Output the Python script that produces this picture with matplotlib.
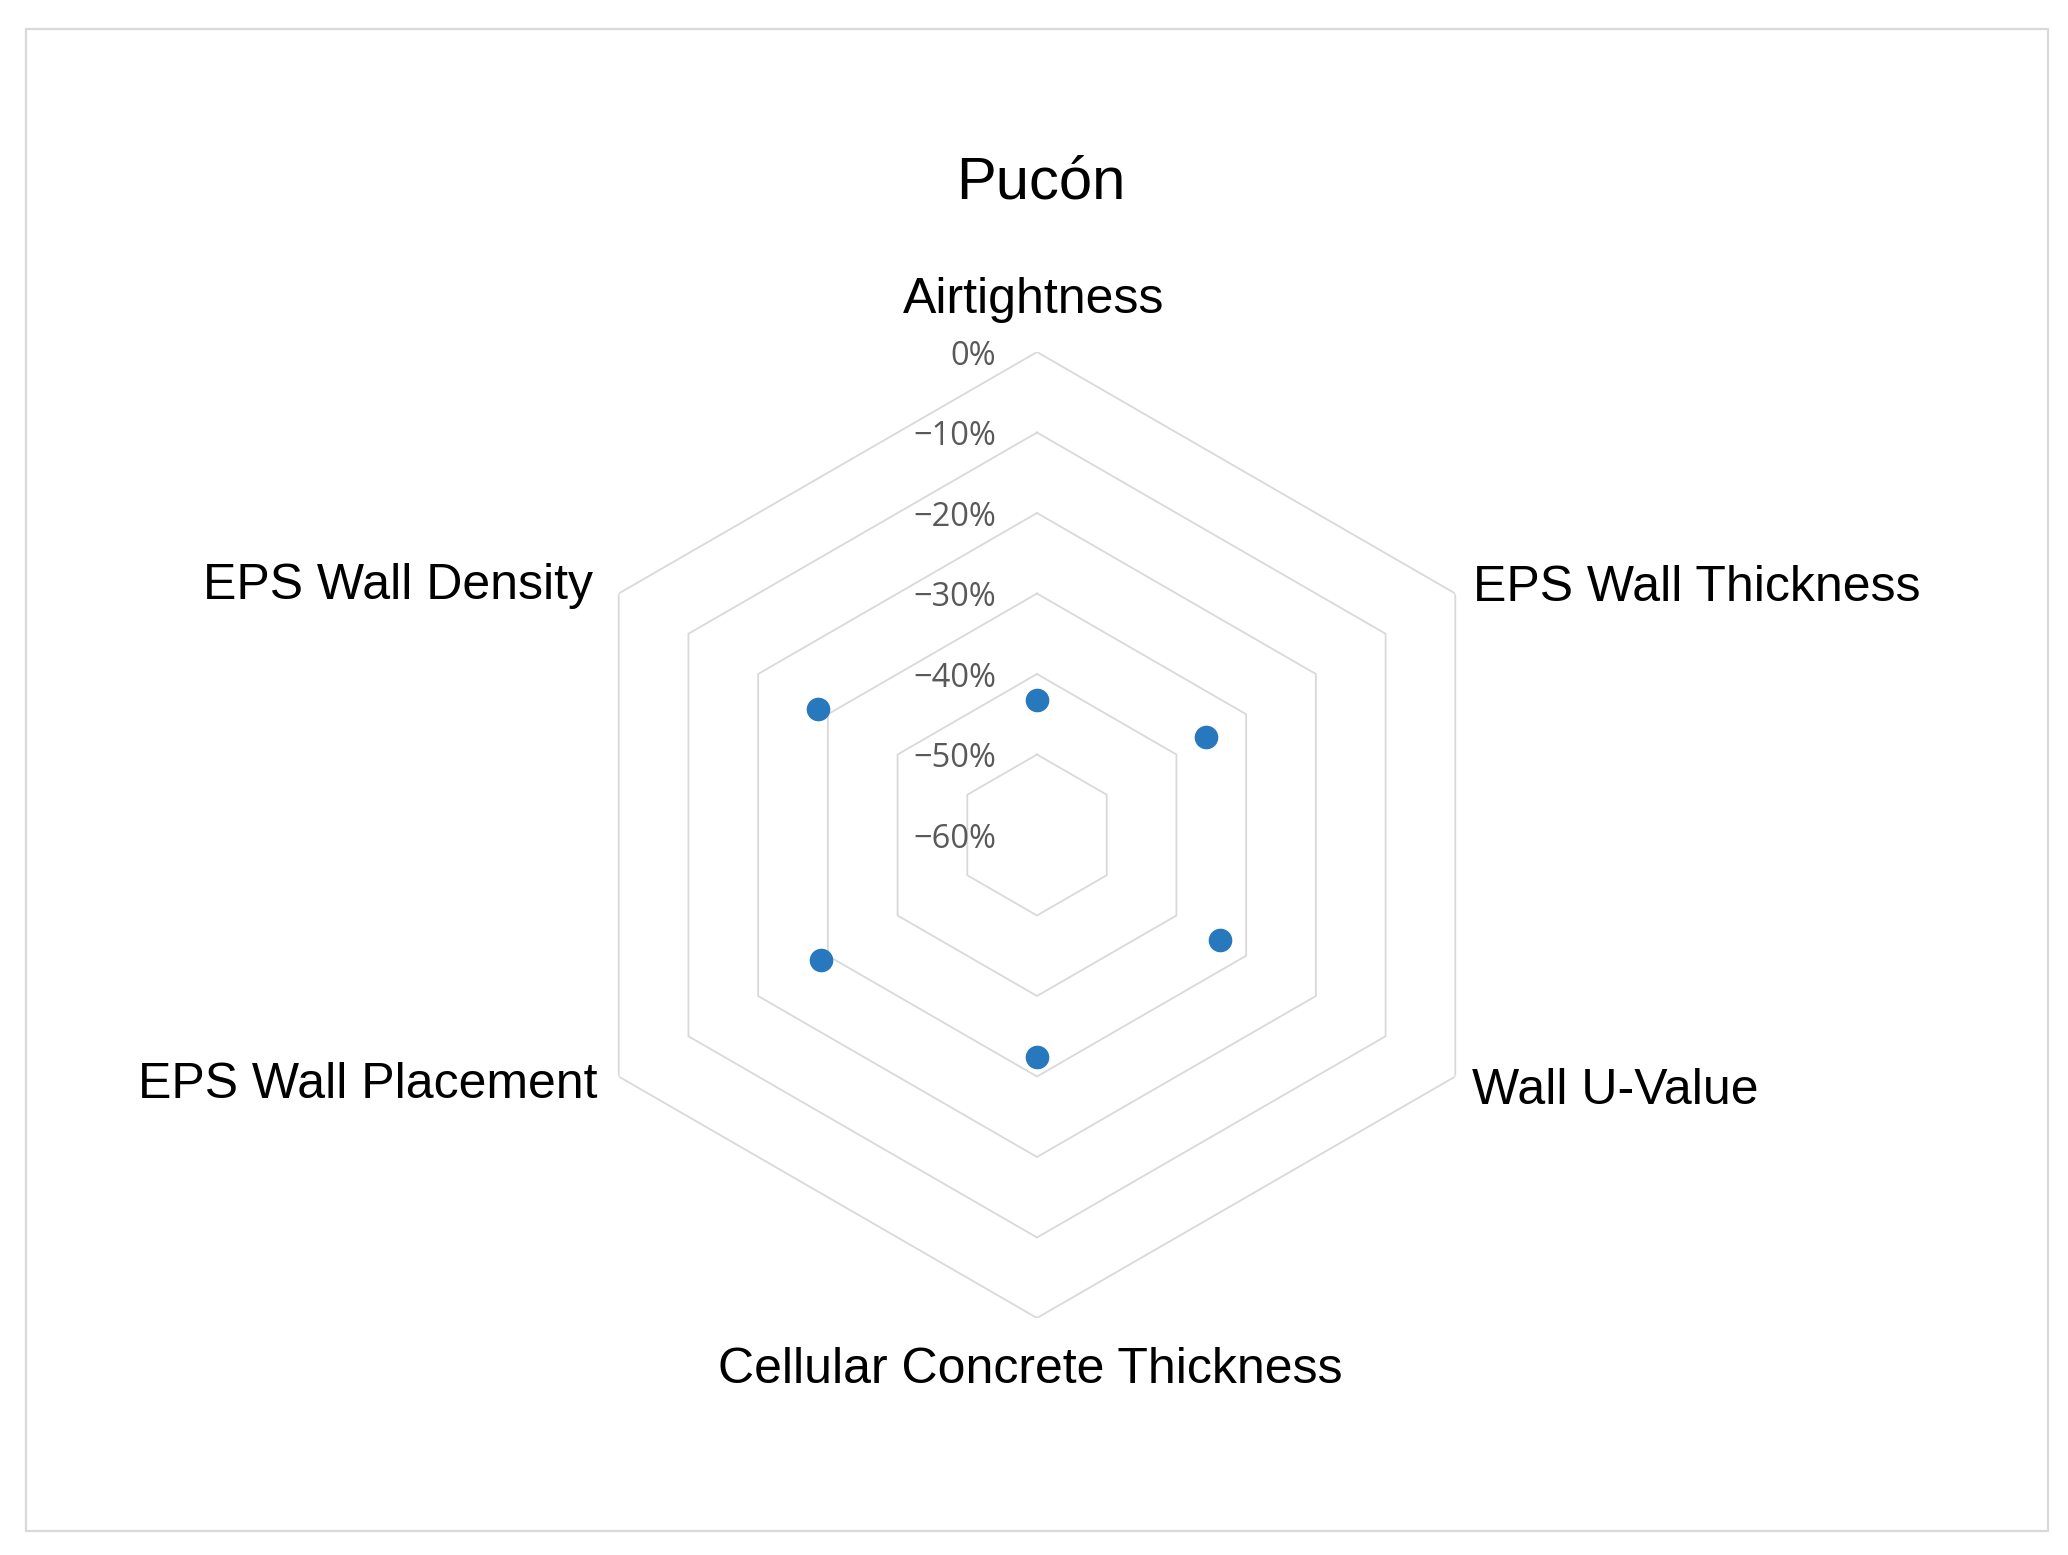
"""
Pucón radar chart: relative change per parameter
"""

import numpy as np
import matplotlib
matplotlib.use("Agg")
import matplotlib.pyplot as plt
from matplotlib.patches import Rectangle
from matplotlib.transforms import offset_copy

# 数据
categories = ["Airtightness", "EPS Wall Thickness", "Wall U-Value",
              "Cellular Concrete Thickness", "EPS Wall Placement", "EPS Wall Density"]
values = [-43.2, -35.7, -33.8, -32.4, -29.0, -28.6]
levels = [0, -10, -20, -30, -40, -50, -60]
level_labels = ["0%", "\u221210%", "\u221220%", "\u221230%", "\u221240%", "\u221250%", "\u221260%"]
title = "Pucón"

# 标签偏移 (像素): dx, dy, ha, va
label_offsets = [(-3, 52, "center", "center"),
                 (18, 6, "left", "center"),
                 (17, -14, "left", "center"),
                 (-7, -52, "center", "center"),
                 (-21, -8, "right", "center"),
                 (-26, 8, "right", "center")]

W, H = 2068, 1555
fig = plt.figure(figsize=(W / 100, H / 100), dpi=100)

# 外框
fig.patches.append(Rectangle((26 / W, 1 - 1531 / H), (2048 - 26) / W, (1531 - 29) / H,
                             transform=fig.transFigure, fill=False,
                             edgecolor="#d9d9d9", linewidth=1.6))

cx, cy, R = 1037, 835, 483
ax = fig.add_axes([(cx - R) / W, (H - cy - R) / H, 2 * R / W, 2 * R / H], projection="polar")
ax.set_theta_zero_location("N")
ax.set_theta_direction(-1)
ax.set_ylim(-60, 0)
ax.grid(False)
ax.set_xticks([])
ax.set_yticks([])
ax.spines["polar"].set_visible(False)
ax.patch.set_visible(False)

n = len(categories)
angles = np.arange(n) * 2 * np.pi / n
closed = np.append(angles, angles[0])

# 六边形网格
for lv in levels[:-1]:
    ax.plot(closed, [lv] * (n + 1), color="#d9d9d9", linewidth=1.3, zorder=1)

# 数据点
ax.plot(angles, values, linestyle="none", marker="o", markersize=16,
        color="#2878bd", zorder=3, clip_on=False)

# 刻度标签
tick_tr = offset_copy(ax.transData, fig=fig, x=-41, y=-4, units="dots")
for lv, lab in zip(levels, level_labels):
    ax.text(0, lv, lab, transform=tick_tr, ha="right", va="center",
            fontsize=23.5, color="#595959", family=["Open Sans", "DejaVu Sans"])

# 类别标签
for ang, cat, (dx, dy, ha, va) in zip(angles, categories, label_offsets):
    tr = offset_copy(ax.transData, fig=fig, x=dx, y=dy, units="dots")
    ax.text(ang, 0, cat, transform=tr, ha=ha, va=va, fontsize=36,
            color="black", family=["Liberation Sans", "DejaVu Sans"])

fig.text(1041 / W, 1 - 183 / H, title, ha="center", va="center", fontsize=43,
         color="black", family=["Liberation Sans", "DejaVu Sans"])

fig.savefig("out.png", dpi=100, facecolor="white")
